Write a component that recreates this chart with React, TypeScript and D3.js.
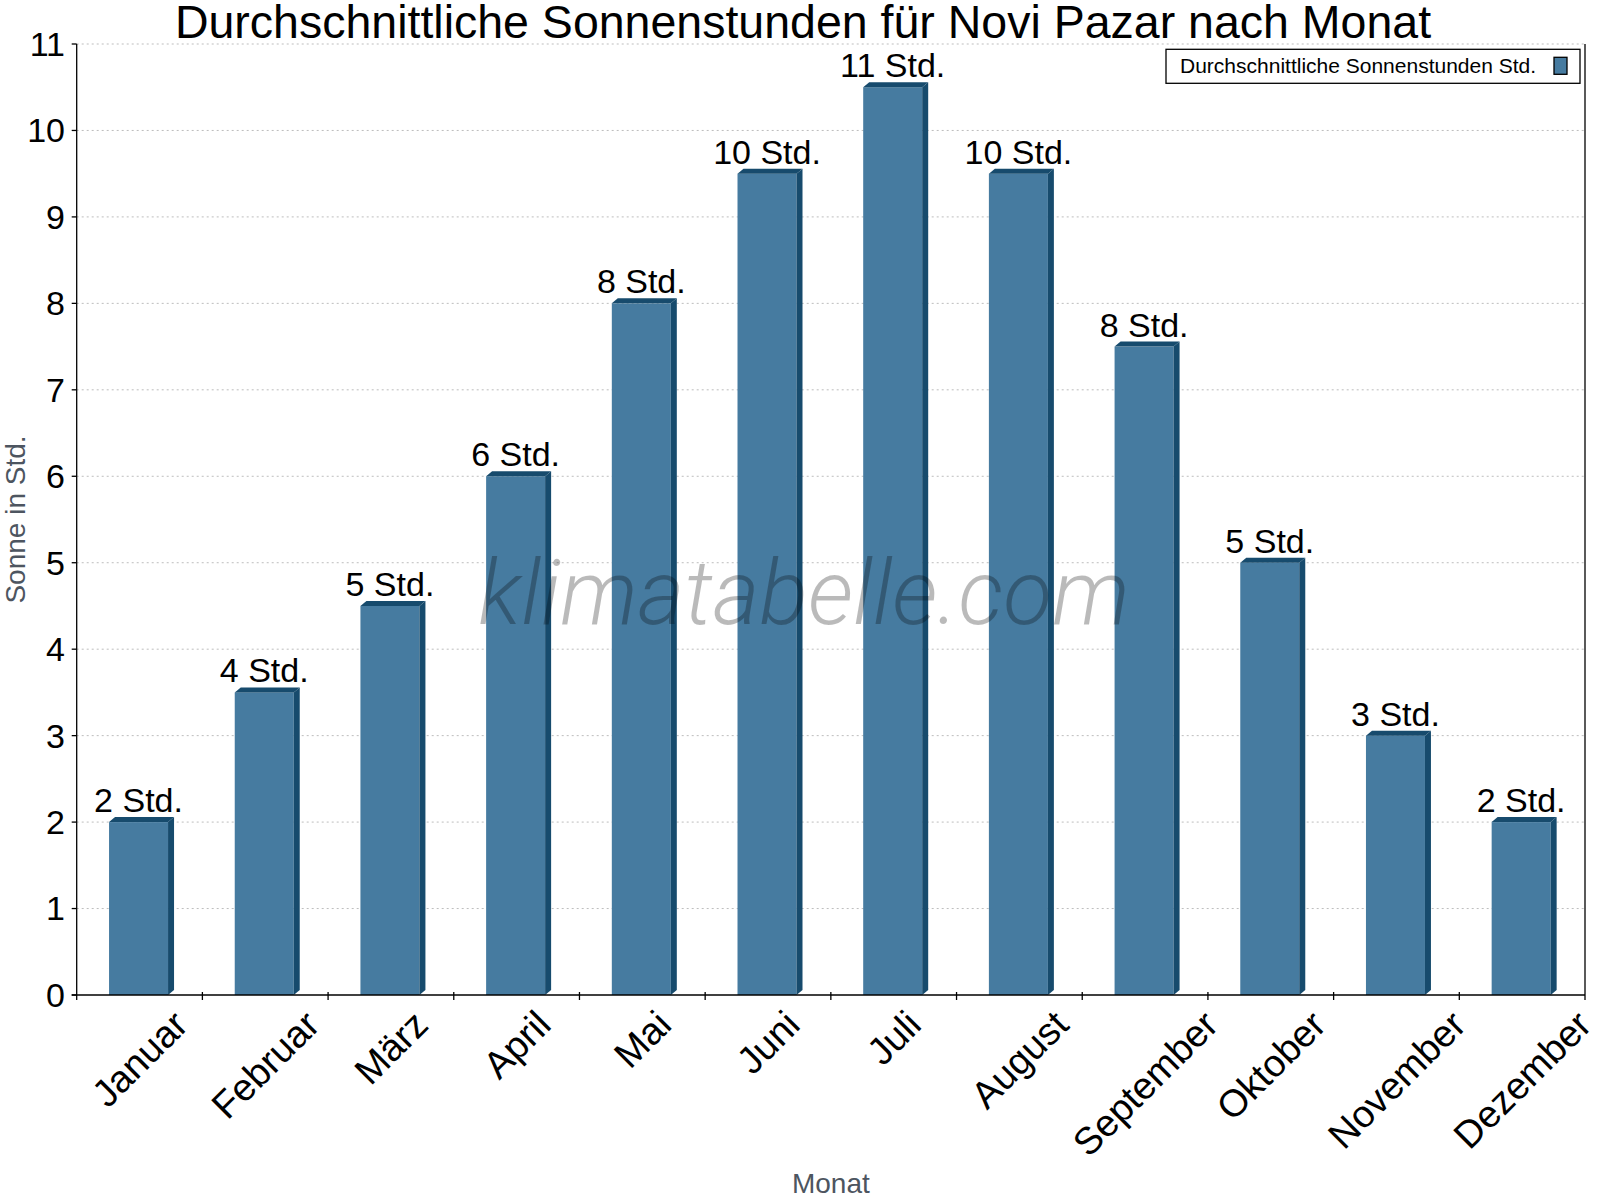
import React, { useEffect, useRef } from 'react';
import * as d3 from 'd3';

// chart data
const months = ['Januar', 'Februar', 'März', 'April', 'Mai', 'Juni', 'Juli', 'August', 'September', 'Oktober', 'November', 'Dezember'];
const sunHours = [2, 3.5, 4.5, 6, 8, 9.5, 10.5, 9.5, 7.5, 5, 3, 2];
const yTicks = [0, 1, 2, 3, 4, 5, 6, 7, 8, 9, 10, 11];

const title = 'Durchschnittliche Sonnenstunden für Novi Pazar nach Monat';
const legendLabel = 'Durchschnittliche Sonnenstunden Std.';
const xTitle = 'Monat';
const yTitle = 'Sonne in Std.';
const unit = 'Std.';

const WIDTH = 1600;
const HEIGHT = 1200;
const FONT = '"Liberation Sans", Arial, sans-serif';

const App: React.FC = () => {
  const svgRef = useRef<SVGSVGElement>(null);

  useEffect(() => {
    if (!svgRef.current) return;
    const svg = d3.select(svgRef.current);
    svg.selectAll('*').remove();

    const left = 76.7;
    const right = 1585;
    const top = 44;
    const bottom = 995;

    const x = d3.scaleBand<string>().domain(months).range([left, right]).padding(0);
    const y = d3.scaleLinear().domain([0, 11]).range([bottom, top]);

    const front = '#467ba0';
    const dark = '#174b6d';
    const barW = 59;
    const dx = 6;
    const dy = 5;

    // grid lines
    svg.append('g')
      .selectAll('line')
      .data(yTicks.filter(t => t > 0))
      .enter()
      .append('line')
      .attr('x1', left)
      .attr('x2', right)
      .attr('y1', d => y(d))
      .attr('y2', d => y(d))
      .attr('stroke', '#bdbdbd')
      .attr('stroke-width', 1)
      .attr('stroke-dasharray', '2,3');

    // bars
    const bars = svg.append('g')
      .selectAll('g')
      .data(sunHours)
      .enter()
      .append('g');

    const x0 = (i: number) => (x(months[i]) || 0) + x.bandwidth() / 2 - 1 - barW / 2;

    bars.append('rect')
      .attr('x', (_, i) => x0(i))
      .attr('y', d => y(d))
      .attr('width', barW)
      .attr('height', d => bottom - y(d))
      .attr('fill', front);

    bars.append('polygon')
      .attr('points', (d, i) => {
        const a = x0(i);
        const b = a + barW;
        const t = y(d);
        return [[a, t], [a + dx, t - dy], [b + dx, t - dy], [b, t]].map(p => p.join(',')).join(' ');
      })
      .attr('fill', dark);

    bars.append('polygon')
      .attr('points', (d, i) => {
        const b = x0(i) + barW;
        const t = y(d);
        return [[b, t], [b + dx, t - dy], [b + dx, bottom - dy], [b, bottom]].map(p => p.join(',')).join(' ');
      })
      .attr('fill', dark);

    // value labels
    bars.append('text')
      .attr('x', (_, i) => x0(i) + barW / 2)
      .attr('y', d => y(d) - 10)
      .attr('text-anchor', 'middle')
      .attr('font-family', FONT)
      .attr('font-size', 34)
      .attr('fill', '#000')
      .text(d => `${Math.round(d)} ${unit}`);

    // axes
    const axis = svg.append('g').attr('stroke', '#000').attr('stroke-width', 1.3);
    axis.append('line').attr('x1', left).attr('x2', left).attr('y1', top).attr('y2', bottom + 5);
    axis.append('line').attr('x1', right).attr('x2', right).attr('y1', top).attr('y2', bottom + 5);
    axis.append('line').attr('x1', left - 5).attr('x2', right).attr('y1', bottom).attr('y2', bottom);

    axis.selectAll('.ytick')
      .data(yTicks)
      .enter()
      .append('line')
      .attr('x1', left - 5)
      .attr('x2', left)
      .attr('y1', d => y(d))
      .attr('y2', d => y(d));

    axis.selectAll('.xtick')
      .data(months.slice(1))
      .enter()
      .append('line')
      .attr('x1', d => x(d) || 0)
      .attr('x2', d => x(d) || 0)
      .attr('y1', bottom - 3)
      .attr('y2', bottom + 5);

    // y tick labels
    svg.append('g')
      .selectAll('text')
      .data(yTicks)
      .enter()
      .append('text')
      .attr('x', 65)
      .attr('y', d => y(d))
      .attr('dy', '0.35em')
      .attr('text-anchor', 'end')
      .attr('font-family', FONT)
      .attr('font-size', 34)
      .text(d => d);

    // x tick labels, rotated, box top below axis
    const xl = svg.append('g')
      .selectAll('text')
      .data(months)
      .enter()
      .append('text')
      .attr('text-anchor', 'middle')
      .attr('dy', '0.35em')
      .attr('font-family', FONT)
      .attr('font-size', 38)
      .text(d => d);

    xl.each(function (d) {
      const el = this as SVGTextElement;
      const w = el.getComputedTextLength();
      const h = 30;
      const cx = (x(d) || 0) + x.bandwidth() / 2;
      const cy = 1007 + ((w + h) * Math.SQRT1_2) / 2;
      d3.select(el).attr('transform', `translate(${cx},${cy}) rotate(-45)`);
    });

    // axis titles
    svg.append('text')
      .attr('x', (left + right) / 2)
      .attr('y', 1193)
      .attr('text-anchor', 'middle')
      .attr('font-family', FONT)
      .attr('font-size', 28)
      .attr('fill', '#4d5560')
      .text(xTitle);

    svg.append('text')
      .attr('transform', `translate(25,${(top + bottom) / 2}) rotate(-90)`)
      .attr('text-anchor', 'middle')
      .attr('font-family', FONT)
      .attr('font-size', 28)
      .attr('fill', '#4d5560')
      .text(yTitle);

    // title
    svg.append('text')
      .attr('x', 803)
      .attr('y', 38)
      .attr('text-anchor', 'middle')
      .attr('font-family', FONT)
      .attr('font-size', 46.5)
      .attr('fill', '#000')
      .text(title);

    // watermark
    svg.append('text')
      .attr('x', 804)
      .attr('y', 624)
      .attr('text-anchor', 'middle')
      .attr('font-family', 'Roboto, "Open Sans", sans-serif')
      .attr('font-weight', 300)
      .attr('font-style', 'italic')
      .attr('font-size', 90)
      .attr('fill', '#000')
      .attr('fill-opacity', 0.27)
      .text('klimatabelle.com');

    // legend
    const lg = svg.append('g');
    lg.append('rect')
      .attr('x', 1166)
      .attr('y', 49.3)
      .attr('width', 414)
      .attr('height', 34)
      .attr('fill', '#fff')
      .attr('stroke', '#000')
      .attr('stroke-width', 1.3);
    lg.append('text')
      .attr('x', 1180)
      .attr('y', 73)
      .attr('font-family', FONT)
      .attr('font-size', 21)
      .text(legendLabel);
    lg.append('rect')
      .attr('x', 1554)
      .attr('y', 57.3)
      .attr('width', 13)
      .attr('height', 17)
      .attr('fill', front)
      .attr('stroke', '#000')
      .attr('stroke-width', 1.3);
  }, []);

  return (
    <div style={{ position: 'absolute', left: 0, top: 0, width: WIDTH, height: HEIGHT, background: '#fff' }}>
      <svg ref={svgRef} width={WIDTH} height={HEIGHT} viewBox={`0 0 ${WIDTH} ${HEIGHT}`} style={{ display: 'block' }} />
    </div>
  );
};

export default App;
